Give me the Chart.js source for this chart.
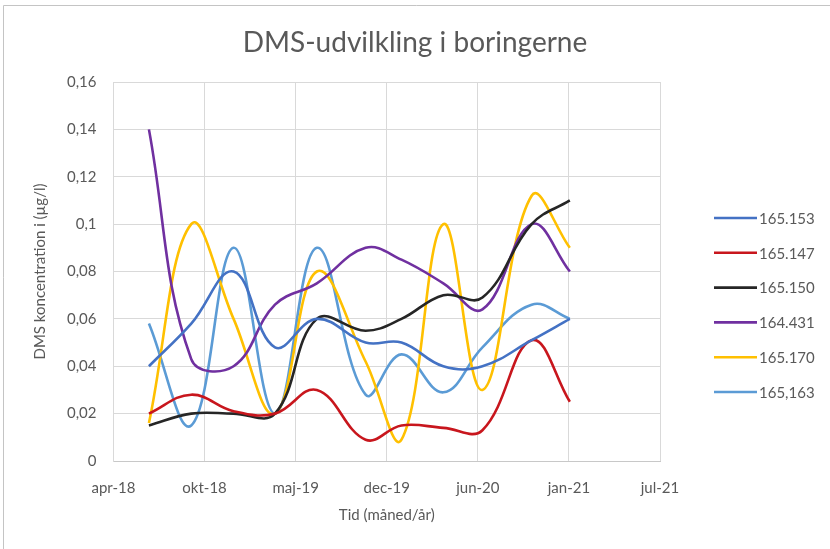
<!DOCTYPE html>
<html>
<head>
<meta charset="utf-8">
<title>DMS-udvilkling i boringerne</title>
<script src="https://cdn.jsdelivr.net/npm/chart.js@4.4.0/dist/chart.umd.min.js"></script>
<style>
    html, body { margin: 0; padding: 0; background: #fff; }
    #wrap { width: 830px; height: 549px; }
</style>
</head>
<body>
<div id="wrap"><canvas id="dmsChart" width="830" height="549"></canvas></div>
<script>
// Prøvetagningsdatoer (fælles for alle boringer)
var sampleDates = ['2018-07-01', '2018-10-01', '2019-01-01', '2019-04-01', '2019-07-01', '2019-10-15',
                   '2020-01-01', '2020-04-01', '2020-06-25', '2020-10-10', '2021-01-01'];

// Akse-etiketter
var tickLabels = ['apr-18', 'okt-18', 'maj-19', 'dec-19', 'jun-20', 'jan-21', 'jul-21'];
var axisStartDate = '2018-04-15';
var tickStepDays = 198;

var chartTitle = 'DMS-udvilkling i boringerne';

// Boringer
var seriesNames = ['165.153', '165.147', '165.150', '164.431', '165.170', '165,163'];

// DMS koncentration (µg/l)
var b165153 = [0.040, 0.058, 0.080, 0.048, 0.060, 0.050, 0.050, 0.040, 0.040, 0.051, 0.060];
var b165147 = [0.020, 0.028, 0.021, 0.020, 0.030, 0.009, 0.015, 0.014, 0.013, 0.051, 0.025];
var b165150 = [0.015, 0.020, 0.020, 0.020, 0.060, 0.055, 0.060, 0.070, 0.069, 0.100, 0.110];
var b164431 = [0.140, 0.043, 0.040, 0.066, 0.075, 0.090, 0.085, 0.075, 0.064, 0.100, 0.080];
var b165170 = [0.016, 0.100, 0.060, 0.020, 0.080, 0.042, 0.009, 0.100, 0.030, 0.112, 0.090];
var b165163 = [0.058, 0.015, 0.090, 0.020, 0.090, 0.028, 0.045, 0.029, 0.048, 0.066, 0.060];

var seriesValues = [b165153, b165147, b165150, b164431, b165170, b165163];
var seriesColors = ['#4472C4', '#C8161D', '#262626', '#7030A0', '#FFC000', '#5B9BD5'];

var textColor = '#595959';
var fontFamily = 'Lato, "Open Sans", sans-serif';

// dato -> dagnummer
function toDay(s) {
    return Date.parse(s + 'T00:00:00Z') / 86400000;
}

var axisStart = toDay(axisStartDate);

function buildDatasets() {
    return seriesNames.map(function(name, i) {
        return {
            label: name,
            data: sampleDates.map(function(d, j) {
                return { x: toDay(d), y: seriesValues[i][j] };
            }),
            borderColor: seriesColors[i],
            backgroundColor: seriesColors[i],
            borderWidth: 2.6,
            pointRadius: 0,
            tension: 0.4,
            fill: false
        };
    });
}

// ramme, hvid baggrund og titel (centreret på hele figuren)
var framePlugin = {
    id: 'frame',
    beforeDraw: function(chart) {
        var ctx = chart.ctx;
        ctx.save();
        ctx.fillStyle = '#fff';
        ctx.fillRect(0, 0, chart.width, chart.height);
        ctx.strokeStyle = '#c4c4c4';
        ctx.lineWidth = 1;
        ctx.beginPath();
        ctx.moveTo(3.5, chart.height);
        ctx.lineTo(3.5, 5.5);
        ctx.lineTo(chart.width, 5.5);
        ctx.stroke();

        ctx.fillStyle = textColor;
        ctx.font = '28px ' + fontFamily;
        ctx.textAlign = 'center';
        ctx.textBaseline = 'middle';
        ctx.fillText(chartTitle, chart.width / 2, 43);
        ctx.restore();
    }
};

// egen forklaring til højre
var legendPlugin = {
    id: 'sideLegend',
    afterDraw: function(chart) {
        var ctx = chart.ctx;
        var area = chart.chartArea;
        var x0 = area.right + 54;
        var y0 = 218;
        var step = 34.8;
        ctx.save();
        ctx.font = '15px ' + fontFamily;
        ctx.textBaseline = 'middle';
        ctx.textAlign = 'left';
        chart.data.datasets.forEach(function(ds, i) {
            var y = y0 + i * step;
            ctx.strokeStyle = ds.borderColor;
            ctx.lineWidth = 2.6;
            ctx.beginPath();
            ctx.moveTo(x0, y);
            ctx.lineTo(x0 + 43, y);
            ctx.stroke();
            ctx.fillStyle = textColor;
            ctx.fillText(ds.label, x0 + 45, y + 1);
        });
        ctx.restore();
    }
};

var ctx = document.getElementById('dmsChart');
new Chart(ctx, {
    type: 'line',
    data: { datasets: buildDatasets() },
    plugins: [framePlugin, legendPlugin],
    options: {
        responsive: false,
        animation: false,
        layout: {
            padding: { left: 31, right: 170, top: 82, bottom: 25 }
        },
        plugins: {
            legend: { display: false },
            tooltip: { enabled: false },
            title: { display: false }
        },
        scales: {
            x: {
                type: 'linear',
                min: axisStart,
                max: axisStart + 6 * tickStepDays,
                afterBuildTicks: function(axis) {
                    axis.ticks = tickLabels.map(function(l, i) {
                        return { value: axisStart + i * tickStepDays };
                    });
                },
                ticks: {
                    callback: function(v, i) { return tickLabels[i]; },
                    color: textColor,
                    font: { family: fontFamily, size: 15 },
                    padding: 18,
                    maxRotation: 0
                },
                grid: { color: '#d9d9d9', drawTicks: false },
                border: { color: '#c8c8c8' },
                title: {
                    display: true,
                    text: 'Tid (måned/år)',
                    color: textColor,
                    font: { family: fontFamily, size: 15 },
                    padding: { top: -9, bottom: 0 }
                }
            },
            y: {
                min: 0,
                max: 0.16,
                ticks: {
                    stepSize: 0.02,
                    callback: function(v) {
                        return parseFloat(v.toFixed(2)).toString().replace('.', ',');
                    },
                    color: textColor,
                    font: { family: fontFamily, size: 15 },
                    padding: 17
                },
                grid: { color: '#d9d9d9', drawTicks: false },
                border: { color: '#d9d9d9' },
                title: {
                    display: true,
                    text: 'DMS koncentration i (µg/l)',
                    color: textColor,
                    font: { family: fontFamily, size: 15 },
                    padding: { top: 0, bottom: 1 }
                }
            }
        }
    }
});
</script>
</body>
</html>
